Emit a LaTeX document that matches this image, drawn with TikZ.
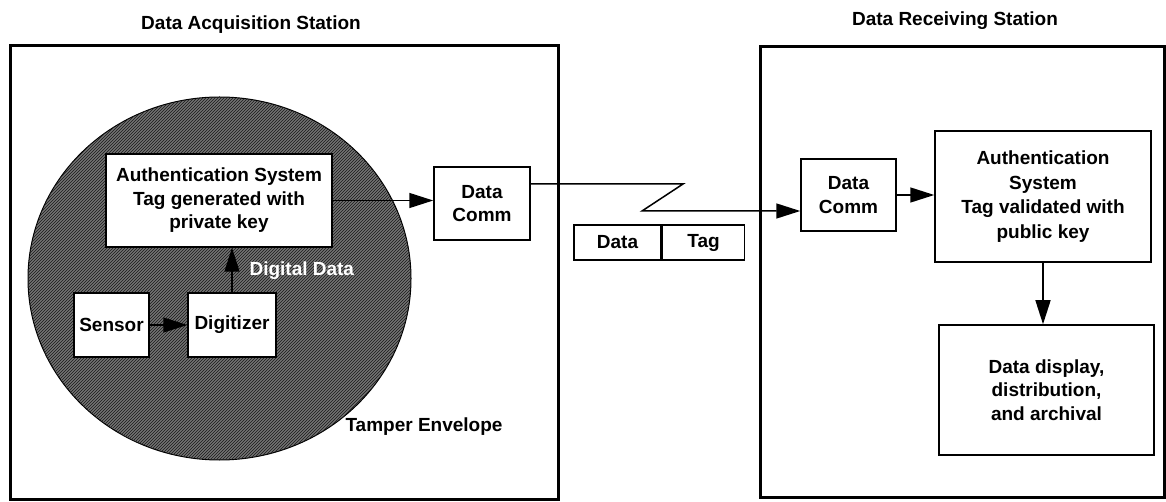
\documentclass[tikz,border=0pt]{standalone}
\usepackage{fontspec}
\setmainfont{Liberation Sans}
\usetikzlibrary{arrows.meta}
\usetikzlibrary{positioning}
\usetikzlibrary{shapes.geometric}
\usetikzlibrary{patterns}

\begin{document}
\begin{tikzpicture}[x=1pt, y=-1pt,
        every node/.style={font=\bfseries\fontsize{19}{23.5}\selectfont},
        station/.style={draw, line width=3pt, inner sep=0pt},
        block/.style={draw, line width=1.5pt, fill=white, align=center, inner sep=0pt},
        flow/.style={-{Triangle[length=24pt,width=15pt]}, line width=1.5pt}]
        \useasboundingbox (0,0) rectangle (1166,502);

        % the two stations
        \node[station, minimum width=548pt, minimum height=453pt] (acq) at (284,272.5) {};
        \node[station, minimum width=404pt, minimum height=450pt] (rcv) at (962,272) {};
        \node (acqtitle) at (251,25) {Data Acquisition Station};
        \node (rcvtitle) at (955,21) {Data Receiving Station};

        % tamper envelope
        \node[ellipse, draw, line width=1pt, fill=black!55,
              postaction={pattern=north east lines, pattern color=black!90},
              minimum width=383pt, minimum height=363pt, inner sep=0pt] (env) at (219.5,278.5) {};
        \node[anchor=west] (envlabel) at (342,427) {Tamper Envelope};

        % acquisition side
        \node[block, minimum width=226pt, minimum height=93pt] (auth) at (219,200.5)
              {Authentication System\\Tag generated with\\private key};
        \node[block, minimum width=75pt, minimum height=64pt] (sensor) at (111.5,325) {Sensor};
        \node[block, minimum width=88pt, minimum height=64pt] (digitizer) at (232,325) {Digitizer};
        \node[block, minimum width=96pt, minimum height=73pt] (comm) at (482,203.5) {Data\\Comm};
        \node[text=white, anchor=west] (digdata) at (246,271) {Digital Data};

        % message
        \node[block, minimum width=87pt, minimum height=35pt] (msgdata) at (617.5,242.5) {Data};
        \node[block, minimum width=82pt, minimum height=35pt, right=0pt of msgdata] (msgtag) {Tag};
        \coordinate (zz1) at (683,184);
        \coordinate (zz2) at (642,211);

        % receiving side
        \node[block, minimum width=95pt, minimum height=72pt] (rcomm) at (848.5,195) {Data\\Comm};
        \node[block, minimum width=216pt, minimum height=131pt, font=\bfseries\fontsize{19}{24.5}\selectfont] (rauth) at (1043,196.5)
              {Authentication\\System\\Tag validated with\\public key};
        \node[block, minimum width=215pt, minimum height=130pt] (display) at (1046.5,390)
              {Data display,\\distribution,\\and archival};

        \draw[flow] (sensor.east) -- (digitizer.west);
        \draw[flow] (digitizer.north) -- (digitizer.north |- auth.south);
        \draw[flow] (auth.east) -- (auth.east -| comm.west);
        \draw[flow] (comm.east |- zz1) -- (zz1) -- (zz2) -- (zz2 -| rcomm.west);
        \draw[flow] (rcomm.east) -- (rcomm.east -| rauth.west);
        \draw[flow] (rauth.south) -- (rauth.south |- display.north);
\end{tikzpicture}
\end{document}
